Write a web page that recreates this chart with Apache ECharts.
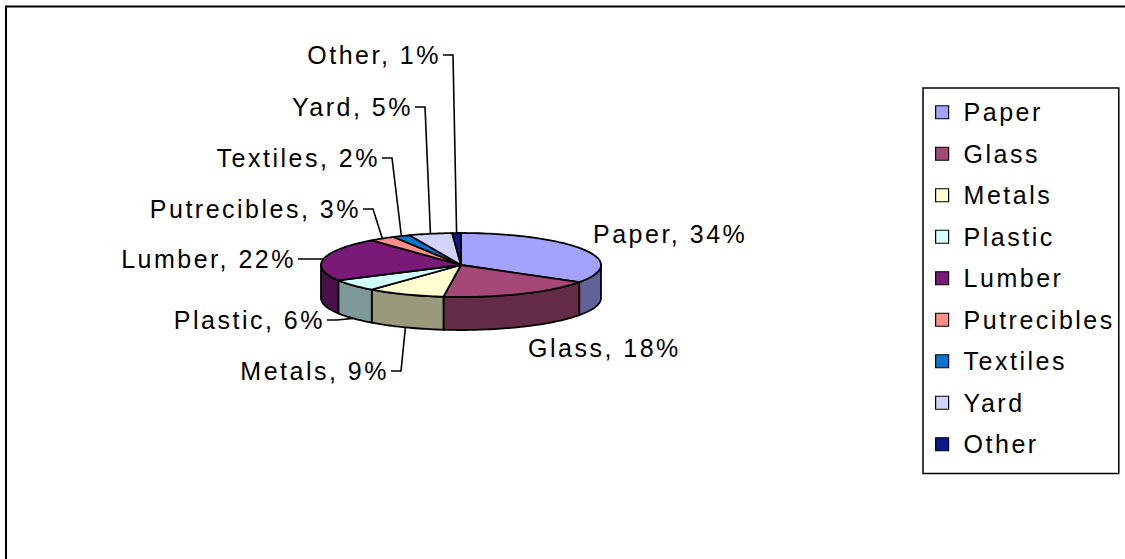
<!DOCTYPE html>
<html>
<head>
<meta charset="utf-8">
<title>Waste composition</title>
<script src="https://cdn.jsdelivr.net/npm/echarts@6/dist/echarts.min.js"></script>
<style>
  html, body { margin: 0; padding: 0; background: #fff; }
  #chart { width: 1125px; height: 559px; }
  /* wide tracking of the chart lettering */
  #chart text { letter-spacing: 2.5px; }
</style>
</head>
<body>
<div id="chart"></div>
<script>
// Share of each material (percent)
const categories = ['Paper', 'Glass', 'Metals', 'Plastic', 'Lumber', 'Putrecibles', 'Textiles', 'Yard', 'Other'];
const values = [34, 18, 9, 6, 22, 3, 2, 5, 1];

// Slice colours (top faces); the walls use a darker shade
const colors = ['#a3a3ff', '#a64877', '#ffffcf', '#d2ffff', '#791a79', '#ff8e8a', '#0b76d1', '#d2d2ff', '#0c1a8f'];

const LETTER = 2.5;         // letter spacing in px, mirrored by the CSS rule
const FONT_SIZE = 25;
const FONT_FAMILY = "'Liberation Sans', Arial, sans-serif";
const FONT = FONT_SIZE + 'px ' + FONT_FAMILY;

// Tilted pie geometry
const PIE = { cx: 461, cy: 265, rx: 140, ry: 32, depth: 33 };

// Where each data label sits. Leader labels give the elbow point of the leader;
// the text ends just left of it.
const labelSpots = [
  { x: 593, y: 234, leader: false },
  { x: 528, y: 348, leader: false },
  { x: 401, y: 371, leader: true },
  { x: 337, y: 320, leader: true },
  { x: 308, y: 259, leader: true },
  { x: 373, y: 209, leader: true },
  { x: 392, y: 158, leader: true },
  { x: 425, y: 107, leader: true },
  { x: 453, y: 55, leader: true }
];

// Text measurement that includes the letter spacing, so layout matches what is drawn
const measureCtx = document.createElement('canvas').getContext('2d');
if (echarts.setPlatformAPI) {
  echarts.setPlatformAPI({
    measureText: function (text, font) {
      measureCtx.font = font || '12px sans-serif';
      const w = measureCtx.measureText(text || '').width;
      return { width: w + LETTER * (text ? text.length : 0) };
    }
  });
}

function shade(hex, f) {
  const n = parseInt(hex.slice(1), 16);
  const r = Math.round(((n >> 16) & 255) * f);
  const g = Math.round(((n >> 8) & 255) * f);
  const b = Math.round((n & 255) * f);
  return 'rgb(' + r + ',' + g + ',' + b + ')';
}

function rimPoint(t, drop) {
  return [PIE.cx + PIE.rx * Math.cos(t), PIE.cy + PIE.ry * Math.sin(t) + (drop || 0)];
}

function arc(t0, t1, drop) {
  const pts = [];
  const steps = Math.max(2, Math.ceil(Math.abs(t1 - t0) / (Math.PI / 120)));
  for (let s = 0; s <= steps; s++) {
    pts.push(rimPoint(t0 + (t1 - t0) * s / steps, drop));
  }
  return pts;
}

const total = values.reduce(function (a, b) { return a + b; }, 0);

function sliceRenderer(idx) {
  return function (params, api) {
    const v = api.value(0);
    let before = 0;
    for (let k = 0; k < idx; k++) before += values[k];
    const t0 = -Math.PI / 2 + before / total * 2 * Math.PI;
    const t1 = -Math.PI / 2 + (before + v) / total * 2 * Math.PI;
    const color = colors[idx];
    const children = [];

    // front wall (only the half facing the viewer is visible)
    const a0 = Math.max(t0, 0), a1 = Math.min(t1, Math.PI);
    if (a1 > a0) {
      const wall = arc(a0, a1, 0).concat(arc(a1, a0, PIE.depth));
      children.push({
        type: 'polygon', z2: 1,
        shape: { points: wall },
        style: { fill: shade(color, 0.6), stroke: '#000', lineWidth: 1.8, lineJoin: 'round' }
      });
    }

    // top face
    const top = [[PIE.cx, PIE.cy]].concat(arc(t0, t1, 0));
    children.push({
      type: 'polygon', z2: 5,
      shape: { points: top },
      style: { fill: color, stroke: '#000', lineWidth: 1.8, lineJoin: 'round' }
    });

    // data label
    const spot = labelSpots[idx];
    const text = categories[idx] + ', ' + v + '%';
    if (spot.leader) {
      const mid = (t0 + t1) / 2;
      const end = Math.sin(mid) > 0 ? rimPoint(mid, PIE.depth) : rimPoint(mid, 0);
      children.push({
        type: 'polyline', z2: 8,
        shape: { points: [[spot.x - 10, spot.y], [spot.x, spot.y], end] },
        style: { fill: null, stroke: '#000', lineWidth: 1.6 }
      });
      children.push({
        type: 'text', z2: 9, x: spot.x - 12, y: spot.y,
        style: { text: text, font: FONT, fill: '#000', align: 'right', verticalAlign: 'middle' }
      });
    } else {
      children.push({
        type: 'text', z2: 9, x: spot.x, y: spot.y,
        style: { text: text, font: FONT, fill: '#000', align: 'left', verticalAlign: 'middle' }
      });
    }
    return { type: 'group', children: children };
  };
}

const chart = echarts.init(document.getElementById('chart'), null, { renderer: 'svg' });

const series = categories.map(function (name, i) {
  return {
    type: 'custom',
    name: name,
    coordinateSystem: 'none',
    silent: true,
    itemStyle: { color: colors[i] },
    data: [[values[i]]],
    renderItem: sliceRenderer(i)
  };
});

chart.setOption({
  animation: false,
  backgroundColor: '#fff',
  color: colors,
  legend: {
    data: categories,
    orient: 'vertical',
    left: 923,
    top: 88,
    padding: [10.5, 4, 15.5, 12],
    itemWidth: 13,
    itemHeight: 13,
    itemGap: 14,
    icon: 'rect',
    selectedMode: false,
    borderColor: '#000',
    borderWidth: 1.5,
    itemStyle: { borderColor: '#000', borderWidth: 1.2 },
    textStyle: {
      fontSize: FONT_SIZE, fontFamily: FONT_FAMILY, color: '#000',
      lineHeight: 24, padding: [0, 0, 0, 10]
    }
  },
  graphic: [{
    type: 'rect', silent: true,
    shape: { x: 6, y: 6.5, width: 1200, height: 600 },
    style: { fill: 'none', stroke: '#000', lineWidth: 2 }
  }],
  series: series
});
</script>
</body>
</html>
